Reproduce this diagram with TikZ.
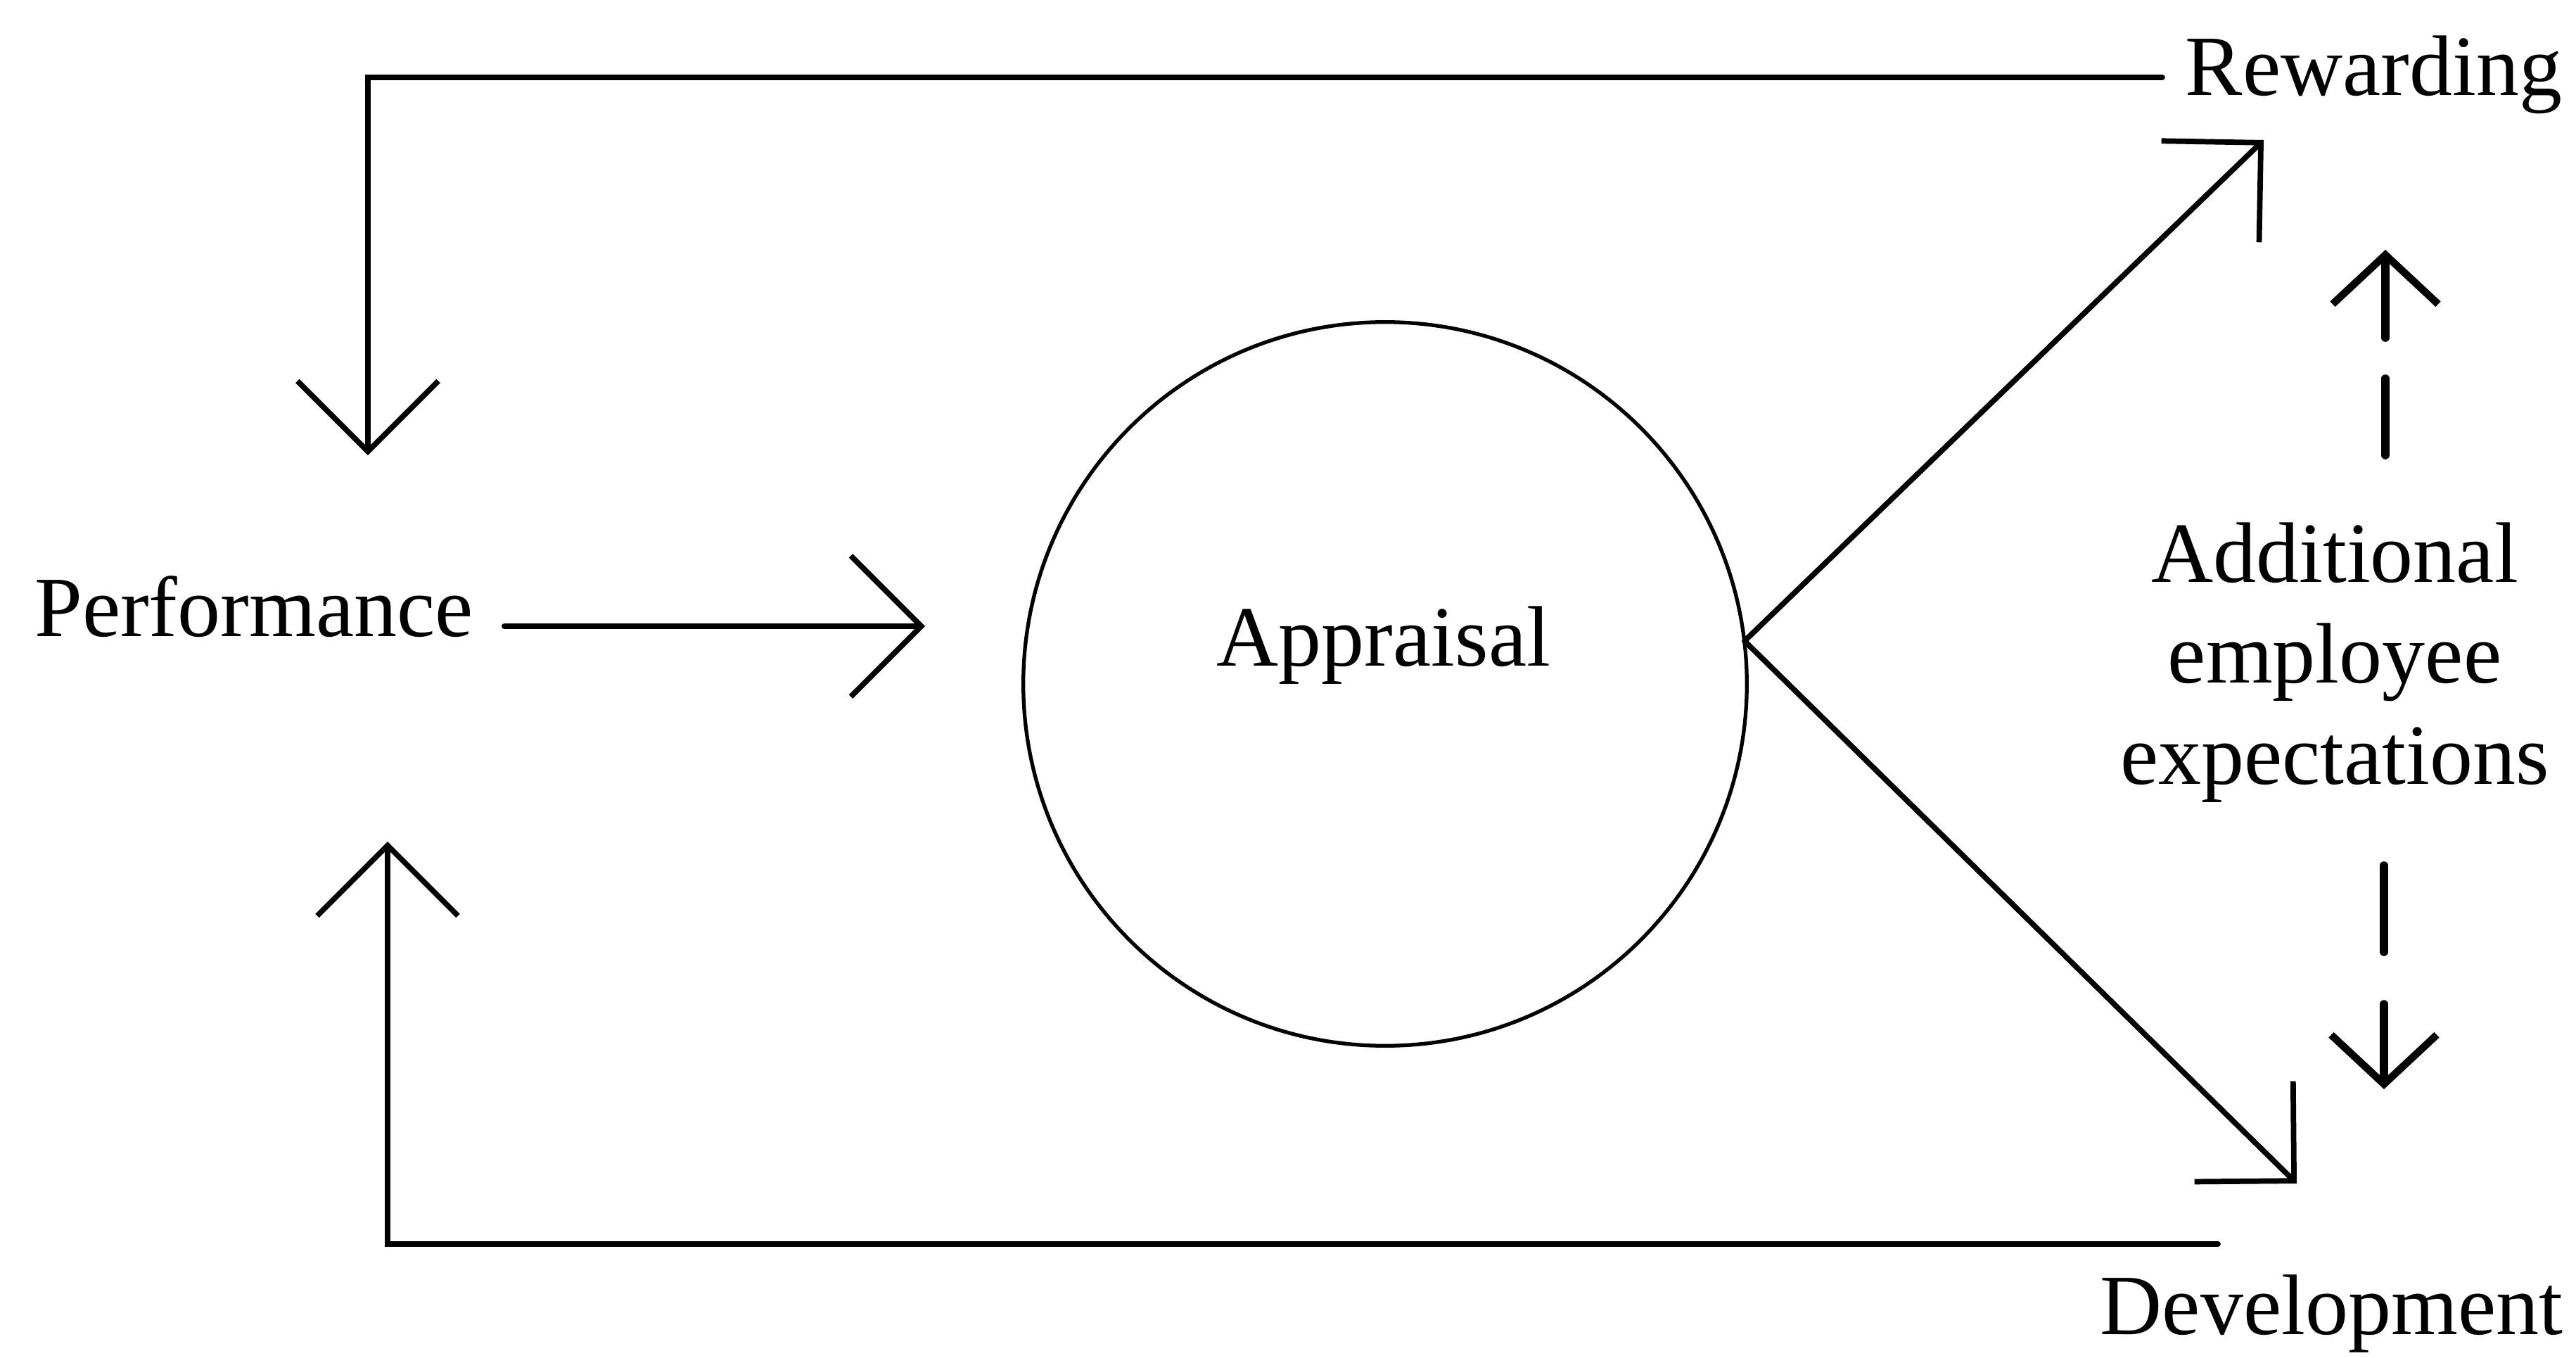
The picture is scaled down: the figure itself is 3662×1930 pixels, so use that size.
\documentclass[tikz,border=0pt]{standalone}
\usepackage{fontspec}
\setmainfont{Liberation Serif}
\usetikzlibrary{arrows.meta}
\begin{document}
\begin{tikzpicture}[x=0.01cm,y=-0.01cm,
  lbl/.style={inner sep=0pt,font=\fontsize{34.7}{40.7}\selectfont},
  conn/.style={line width=2.2pt,line cap=round,line join=miter},
  bigtip/.style={-{Straight Barb[length=1cm,width=2cm,line width=2.2pt]}},
  dashseg/.style={line width=3.3pt,line cap=round},
  smalltip/.style={-{Straight Barb[length=0.7cm,width=1.5cm,line width=3pt]}}]
\useasboundingbox (0,0) rectangle (3662,1930);

% texts
\node[lbl,anchor=base] (perf) at (361,904) {Performance};
\node[draw,circle,line width=1.5pt,minimum size=10.28cm,inner sep=0pt] (circ) at (1969,972) {};
\node[lbl,anchor=base] (appr) at (1967,946) {Appraisal};
\node[lbl,anchor=base west] (rew) at (3106,135) {Rewarding};
\node[lbl,anchor=base west] (dev) at (2985,1896) {Development};
\node[lbl,anchor=base,align=center] (add) at (3319,1114) {Additional\\employee\\expectations};

% coordinates
\coordinate (pstart) at (717,890);
\coordinate (ptip) at (1315,890);
\coordinate (junc) at (2480,911);
\coordinate (rtip) at (3218,199);
\coordinate (dtip) at (3265,1682);
\coordinate (topR) at (3074,110);
\coordinate (topL) at (523,110);
\coordinate (topTip) at (523,647);
\coordinate (botR) at (3153,1768);
\coordinate (botL) at (551,1768);
\coordinate (botTip) at (551,1196);
\coordinate (ua1) at (3391,480);
\coordinate (uatip) at (3391,355);
\coordinate (ud1) at (3391,538);
\coordinate (ud2) at (3391,647);
\coordinate (ld1) at (3389,1230);
\coordinate (ld2) at (3389,1353);
\coordinate (la1) at (3389,1427);
\coordinate (latip) at (3389,1548);

% connectors
\draw[conn,bigtip] (pstart) -- (ptip);
\draw[conn,bigtip] (junc) -- (rtip);
\draw[conn,bigtip] (junc) -- (dtip);
\draw[conn,bigtip] (topR) -- (topL) -- (topTip);
\draw[conn,bigtip] (botR) -- (botL) -- (botTip);

\draw[dashseg,smalltip] (ua1) -- (uatip);
\draw[dashseg] (ud1) -- (ud2);
\draw[dashseg] (ld1) -- (ld2);
\draw[dashseg,smalltip] (la1) -- (latip);
\end{tikzpicture}
\end{document}
